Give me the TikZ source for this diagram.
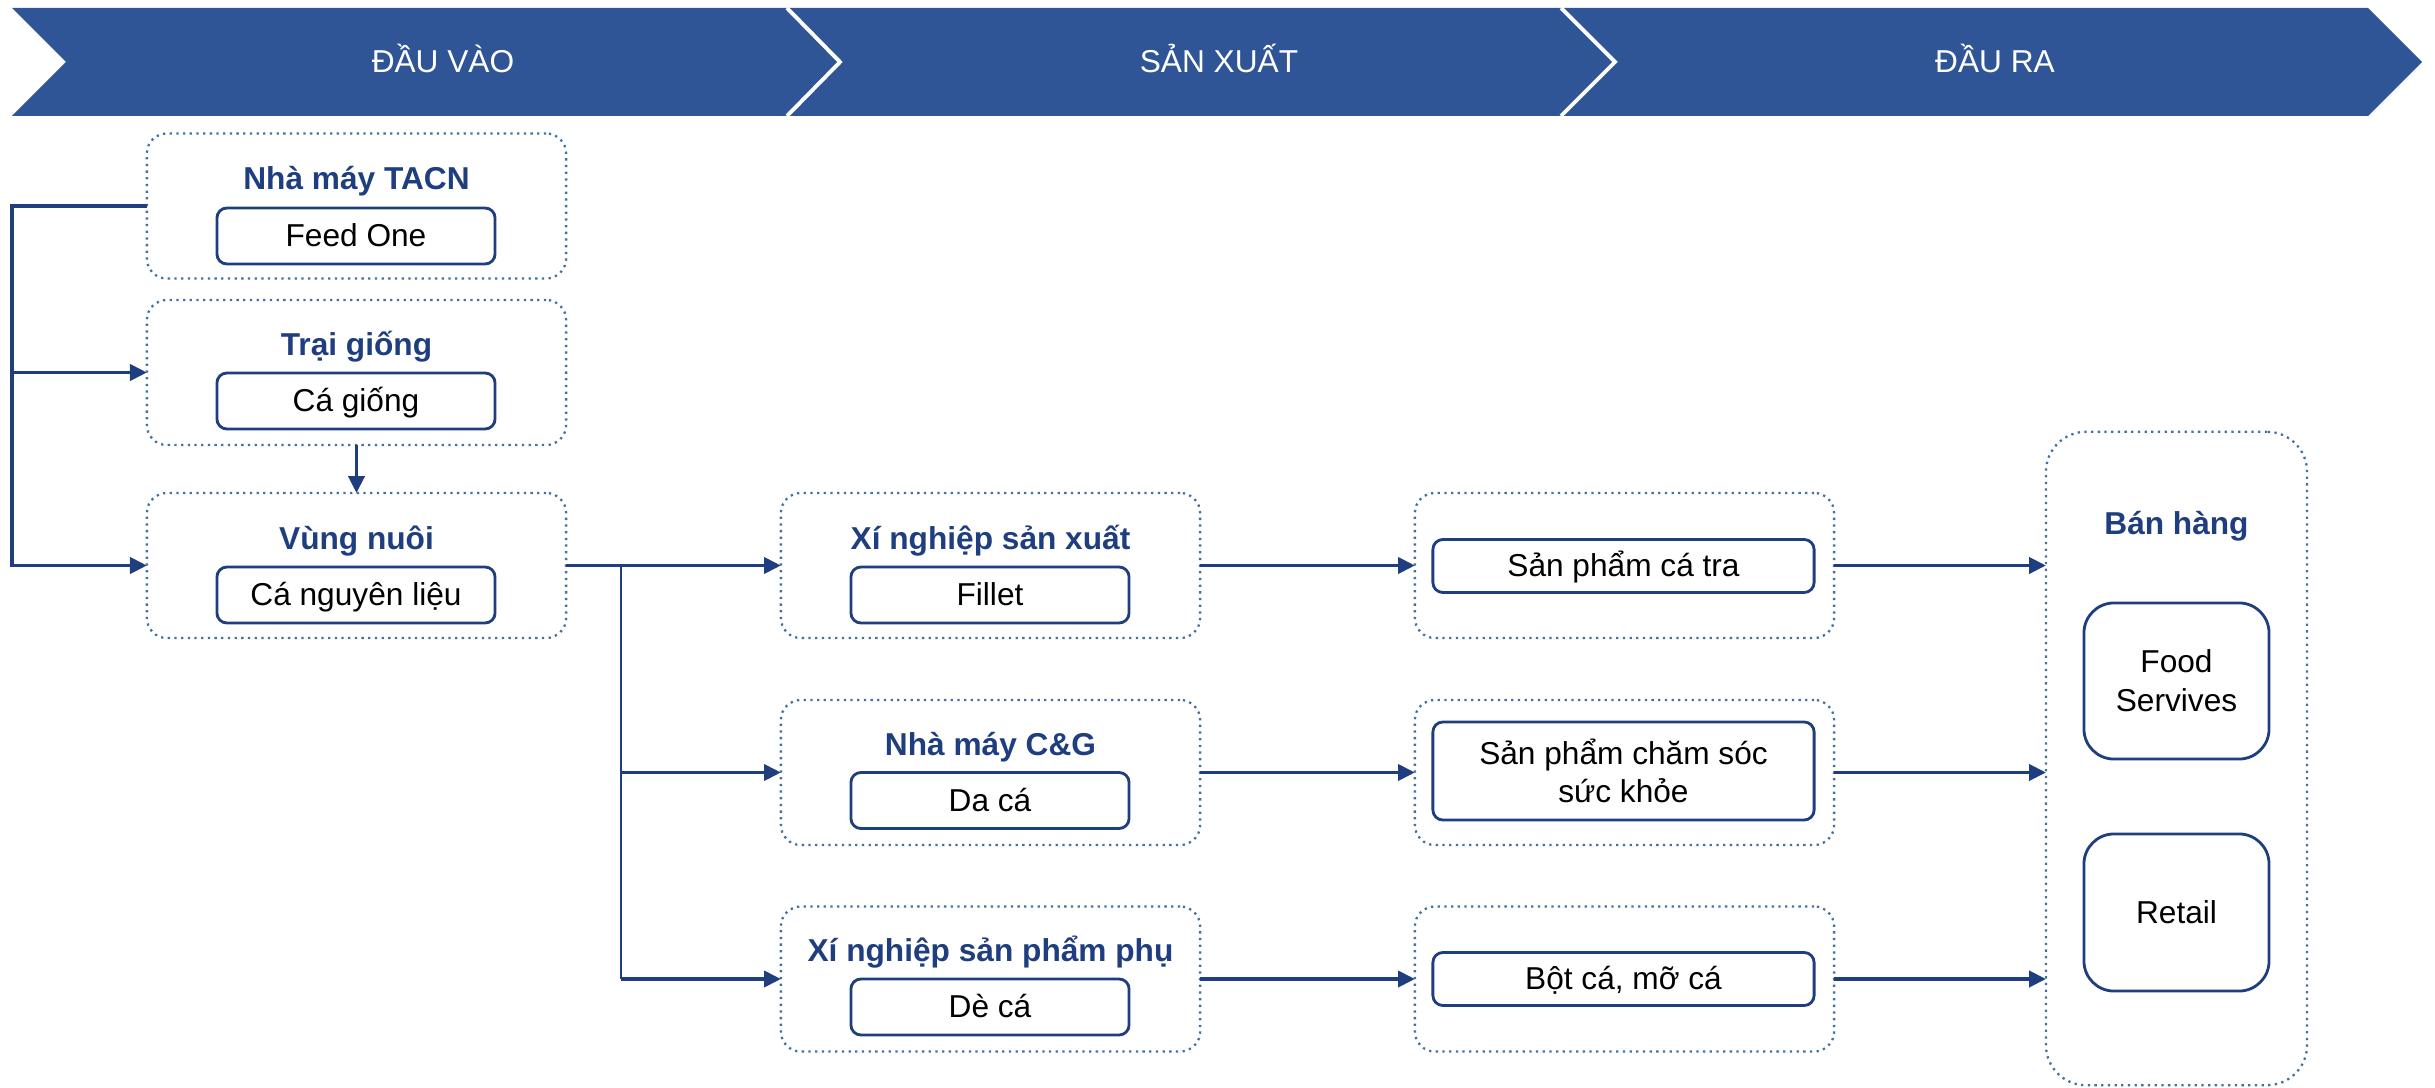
\documentclass[tikz,border=0pt]{standalone}
\usepackage{fontspec}
\setmainfont{Liberation Sans}
\usetikzlibrary{arrows.meta}
\definecolor{bandblue}{RGB}{47,85,151}
\definecolor{dotblue}{RGB}{65,113,156}
\definecolor{navy}{RGB}{31,62,128}
\tikzset{
  outerbox/.style={draw=dotblue,line width=0.65pt,dash pattern=on 0.65pt off 1.25pt,
    rounded corners=0.2cm,minimum width=4.19cm,minimum height=1.45cm,inner sep=0pt,outer sep=0pt},
  headtext/.style={text=navy,font=\fontsize{9}{11}\selectfont\bfseries,inner sep=0pt,
    text height=6.6pt,text depth=0.4pt},
  itembox/.style={draw=navy,line width=0.8pt,rounded corners=0.1cm,minimum width=2.78cm,
    minimum height=0.56cm,inner sep=0pt,outer sep=0pt,font=\fontsize{9}{11}\selectfont,
    text height=6.6pt,text depth=0.4pt},
  itemtall/.style={draw=navy,line width=0.8pt,rounded corners=0.1cm,inner sep=0pt,outer sep=0pt,
    font=\fontsize{9}{11}\selectfont,align=center},
  chevtext/.style={text=white,font=\fontsize{9}{11}\selectfont,inner sep=0pt,
    text height=6.6pt,text depth=0.4pt},
  link/.style={draw=navy,line width=1pt},
  linkarrow/.style={link,-{Triangle[length=4.8pt,width=4.6pt]}},
  thinlink/.style={draw=navy,line width=0.5pt}
}
\begin{document}
\begin{tikzpicture}[x=0.01cm,y=-0.01cm]
\useasboundingbox (0,0) rectangle (2435,1088);
% stages
\fill[bandblue] (12,8) -- (2368,8) -- (2422,62) -- (2368,116) -- (12,116) -- (66,62) -- cycle;
\draw[white,line width=1.1pt] (787,8) -- (840,62) -- (787,116);
\draw[white,line width=1.1pt] (1561,8) -- (1615,62) -- (1561,116);
\node[chevtext] (s1) at (443,62) {ĐẦU VÀO};
\node[chevtext] (s2) at (1219,62) {SẢN XUẤT};
\node[chevtext] (s3) at (1995,62) {ĐẦU RA};
% input column
\node[outerbox] (b1) at (356.5,206) {};
\node[headtext] (t1) at (356.5,179) {Nhà máy TACN};
\node[itembox] (i1) at (356,236) {Feed One};
\node[outerbox] (b2) at (356.5,372.5) {};
\node[headtext] (t2) at (356.5,345) {Trại giống};
\node[itembox] (i2) at (356,401) {Cá giống};
\node[outerbox] (b3) at (356.5,565.5) {};
\node[headtext] (t3) at (356.5,539) {Vùng nuôi};
\node[itembox] (i3) at (356,595) {Cá nguyên liệu};
% production column
\node[outerbox] (b4) at (990.5,565.5) {};
\node[headtext] (t4) at (990.5,539) {Xí nghiệp sản xuất};
\node[itembox] (i4) at (990,595) {Fillet};
\node[outerbox] (b5) at (990.5,772.5) {};
\node[headtext] (t5) at (990.5,745) {Nhà máy C\&G};
\node[itembox] (i5) at (990,800.5) {Da cá};
\node[outerbox] (b6) at (990.5,979) {};
\node[headtext] (t6) at (990.5,951) {Xí nghiệp sản phẩm phụ};
\node[itembox] (i6) at (990,1007) {Dè cá};
% products column
\node[outerbox] (b7) at (1624.5,565.5) {};
\node[itembox,minimum width=3.81cm,minimum height=0.53cm] (i7) at (1623.5,566) {Sản phẩm cá tra};
\node[outerbox] (b8) at (1624.5,772.5) {};
\node[itemtall,minimum width=3.81cm,minimum height=0.98cm] (i8) at (1623.5,771) {Sản phẩm chăm sóc\\sức khỏe};
\node[outerbox] (b9) at (1624.5,979) {};
\node[itembox,minimum width=3.81cm,minimum height=0.53cm] (i9) at (1623.5,979) {Bột cá, mỡ cá};
% sales
\node[outerbox,rounded corners=0.4cm,minimum width=2.61cm,minimum height=6.53cm] (sales) at (2176.5,758.5) {};
\node[headtext] (t10) at (2176.5,524) {Bán hàng};
\node[itemtall,rounded corners=0.3cm,minimum width=1.85cm,minimum height=1.56cm] (food) at (2176.5,681) {Food\\Servives};
\node[itemtall,rounded corners=0.3cm,minimum width=1.85cm,minimum height=1.57cm] (retail) at (2176.5,912.5) {Retail};
% connectors
\coordinate (lbus) at (12,0);
\coordinate (rbus) at (621,0);
\draw[linkarrow] (b1.west) -| (lbus |- b3.west) -- (b3.west);
\draw[linkarrow] (lbus |- b2.west) -- (b2.west);
\draw[linkarrow] (b2.south) -- (b3.north);
\draw[linkarrow] (b3.east) -- (b4.west);
\draw[thinlink] (rbus |- b3.east) -- (rbus |- b6.west);
\draw[linkarrow] (rbus |- b5.west) -- (b5.west);
\draw[linkarrow] (rbus |- b6.west) -- (b6.west);
\draw[linkarrow] (b4.east) -- (b7.west);
\draw[linkarrow] (b5.east) -- (b8.west);
\draw[linkarrow] (b6.east) -- (b9.west);
\draw[linkarrow] (b7.east) -- (b7.east -| sales.west);
\draw[linkarrow] (b8.east) -- (b8.east -| sales.west);
\draw[linkarrow] (b9.east) -- (b9.east -| sales.west);
\end{tikzpicture}
\end{document}
